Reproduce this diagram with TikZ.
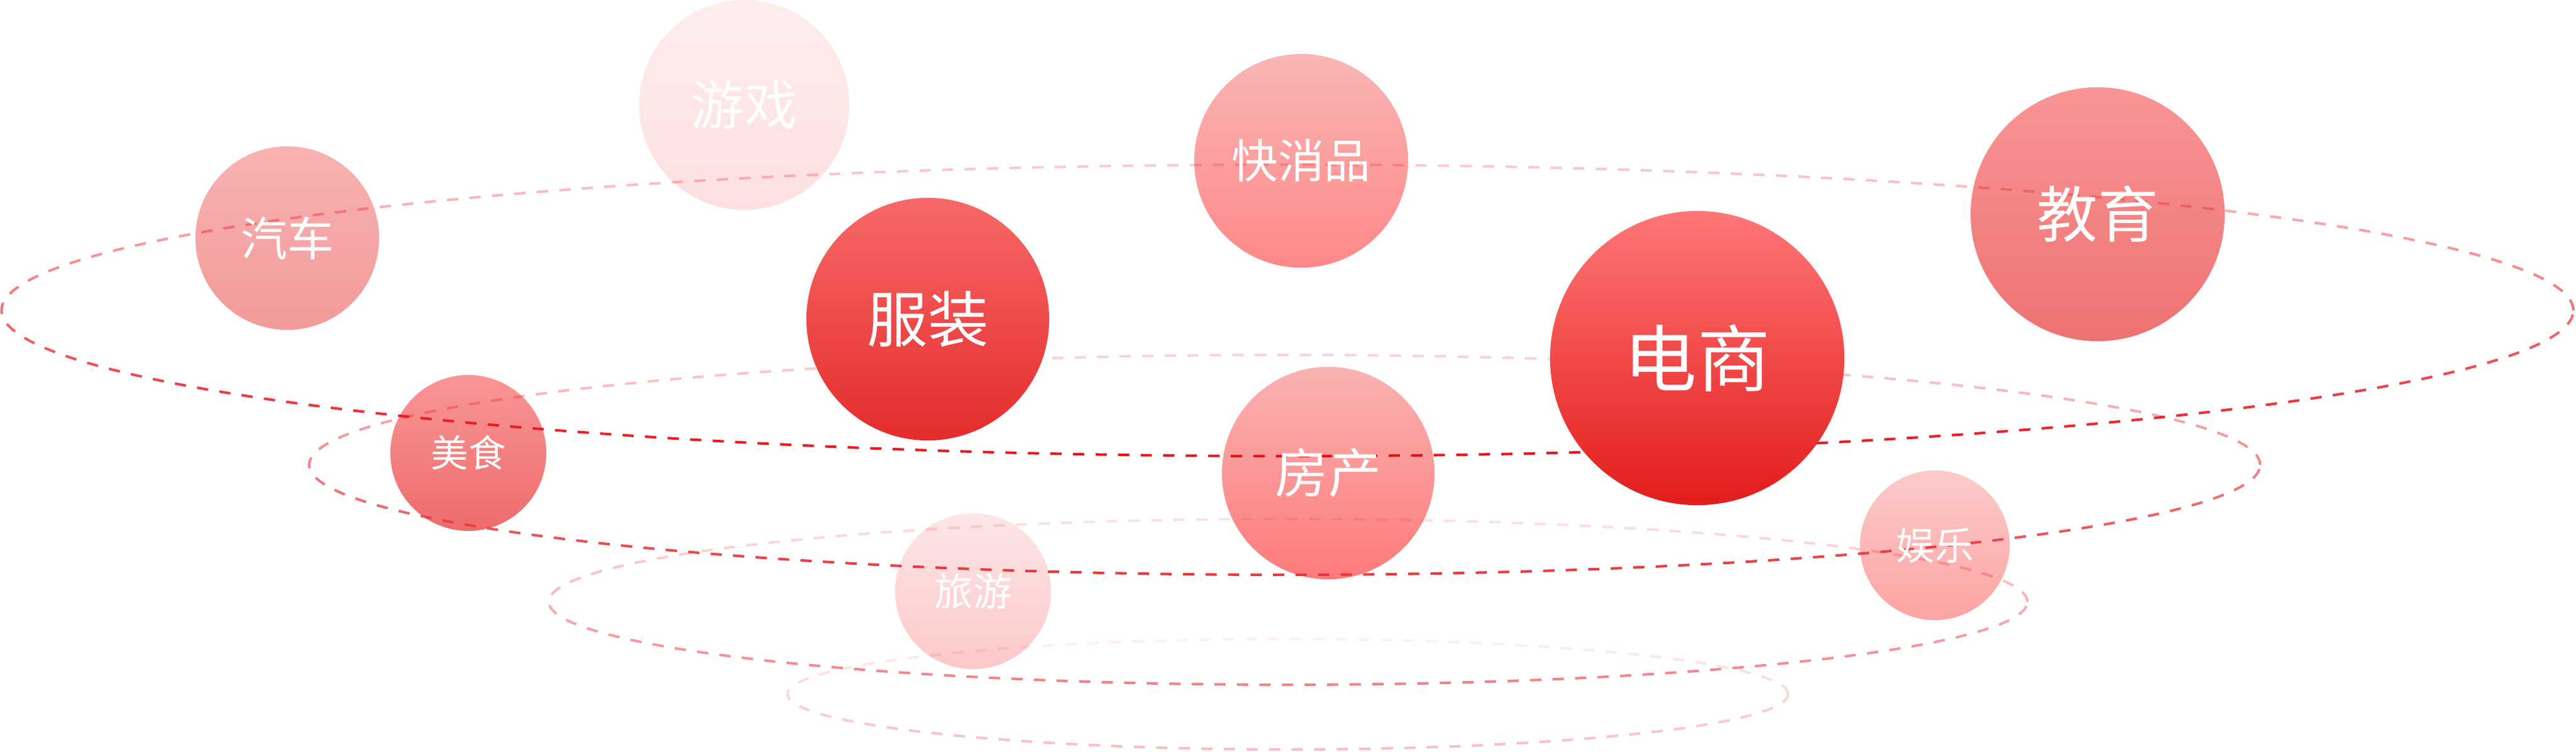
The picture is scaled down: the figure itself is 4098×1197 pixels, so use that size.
\documentclass[tikz,border=0pt]{standalone}
\usepackage{fontspec}
\setmainfont{Noto Sans CJK SC}
\usetikzlibrary{fadings}

% colours of the balls (top / bottom)
\definecolor{qicheT}{HTML}{F9B2B2}\definecolor{qicheB}{HTML}{F29A9A}
\definecolor{youxiT}{HTML}{FEEDED}\definecolor{youxiB}{HTML}{FDE0E0}
\definecolor{meishiT}{HTML}{F99696}\definecolor{meishiB}{HTML}{EE6B6B}
\definecolor{fuzhuangT}{HTML}{F86868}\definecolor{fuzhuangB}{HTML}{E42C2C}
\definecolor{kuaixiaoT}{HTML}{F9B5B5}\definecolor{kuaixiaoB}{HTML}{FF8888}
\definecolor{fangchanT}{HTML}{F9B3B3}\definecolor{fangchanB}{HTML}{FF7A7A}
\definecolor{lvyouT}{HTML}{FDE6E6}\definecolor{lvyouB}{HTML}{FDC8C8}
\definecolor{dianshangT}{HTML}{FF7676}\definecolor{dianshangB}{HTML}{E31C1C}
\definecolor{jiaoyuT}{HTML}{F99595}\definecolor{jiaoyuB}{HTML}{EE7272}
\definecolor{yuleT}{HTML}{FCCBCB}\definecolor{yuleB}{HTML}{FDA3A3}

% colour of the rings
\definecolor{ringred}{HTML}{E8121A}
\definecolor{ringrose}{HTML}{E8363A}

% rings fade out towards the top
\tikzfading[name=fade up, top color=transparent!79, bottom color=transparent!0]

\tikzset{
  ball/.style={circle, inner sep=0pt, draw=none},
  tag/.style={text=white, inner sep=0pt},
  ring/.style={line width=1.15pt, dash pattern=on 5.1pt off 5.1pt, path fading=fade up}
}

\begin{document}
\begin{tikzpicture}[x=0.01cm, y=0.01cm]
    \useasboundingbox (0,0) rectangle (4098,1197);

    % light balls, behind the rings
    \node (qiche) [ball, top color=qicheT, bottom color=qicheB, minimum size=2.92cm] at (457,818) {};
    \node (youxi) [ball, top color=youxiT, bottom color=youxiB, minimum size=3.34cm] at (1184,1030) {};
    \node (meishi) [ball, top color=meishiT, bottom color=meishiB, minimum size=2.48cm] at (745,476) {};
    \node (kuaixiao) [ball, top color=kuaixiaoT, bottom color=kuaixiaoB, minimum size=3.40cm] at (2070,941) {};
    \node (fangchan) [ball, top color=fangchanT, bottom color=fangchanB, minimum size=3.38cm] at (2113,444) {};
    \node (lvyou) [ball, top color=lvyouT, bottom color=lvyouB, minimum size=2.48cm] at (1548,256) {};
    \node (jiaoyu) [ball, top color=jiaoyuT, bottom color=jiaoyuB, minimum size=4.04cm] at (3337,856) {};
    \node (yule) [ball, top color=yuleT, bottom color=yuleB, minimum size=2.38cm] at (3078,329) {};

    % the four dashed rings
    \coordinate (ringa) at (2049,703);
    \coordinate (ringb) at (2048,457);
    \coordinate (ringc) at (2049,239);
    \coordinate (ringd) at (2049,92);
    \draw[ring, ringred, draw opacity=0.28] (ringd) ellipse [x radius=796, y radius=88];
    \draw[ring, ringred, draw opacity=0.54] (ringc) ellipse [x radius=1176, y radius=132];
    \draw[ring, ringrose] (ringb) ellipse [x radius=1554, y radius=175];
    \draw[ring, ringred] (ringa) ellipse [x radius=2046, y radius=232];

    % strong balls, in front of the rings
    \node (fuzhuang) [ball, top color=fuzhuangT, bottom color=fuzhuangB, minimum size=3.86cm] at (1476,689) {};
    \node (dianshang) [ball, top color=dianshangT, bottom color=dianshangB, minimum size=4.68cm] at (2700,627) {};

    % labels
    \node[tag, font=\fontsize{21pt}{21pt}\selectfont] at (qiche) {汽车};
    \node[tag, font=\fontsize{24pt}{24pt}\selectfont] at (youxi) {游戏};
    \node[tag, font=\fontsize{17pt}{17pt}\selectfont] at (meishi) {美食};
    \node[tag, font=\fontsize{27.5pt}{27.5pt}\selectfont] at (fuzhuang) {服装};
    \node[tag, font=\fontsize{21pt}{21pt}\selectfont] at (kuaixiao) {快消品};
    \node[tag, font=\fontsize{24pt}{24pt}\selectfont] at (fangchan) {房产};
    \node[tag, font=\fontsize{17.5pt}{17.5pt}\selectfont] at (lvyou) {旅游};
    \node[tag, font=\fontsize{33pt}{33pt}\selectfont] at (dianshang) {电商};
    \node[tag, font=\fontsize{27.5pt}{27.5pt}\selectfont] at (jiaoyu) {教育};
    \node[tag, font=\fontsize{17.5pt}{17.5pt}\selectfont] at (yule) {娱乐};
\end{tikzpicture}
\end{document}
